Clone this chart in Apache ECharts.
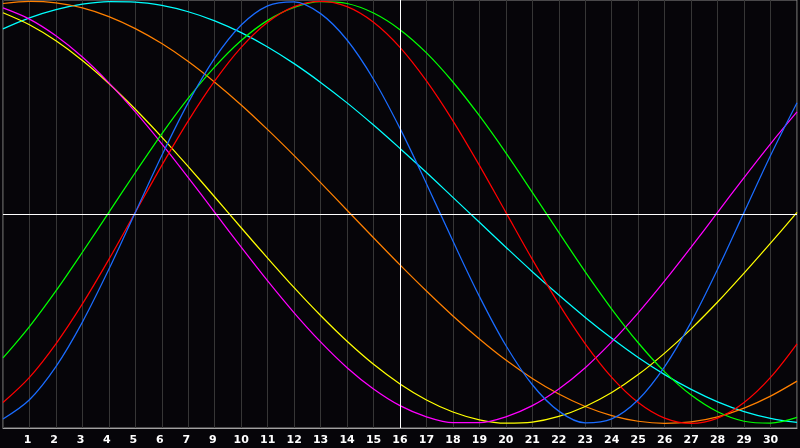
<!DOCTYPE html>
<html>
<head>
<meta charset="utf-8">
<script src="https://cdn.jsdelivr.net/npm/echarts@6/dist/echarts.min.js"></script>
<style>
  html, body { margin: 0; padding: 0; background: #060509; }
  #chart { width: 800px; height: 448px; }
</style>
</head>
<body>
<div id="chart"></div>
<script>
// x positions (grid slots) and the day labels printed under them
const slots = [0,1,2,3,4,5,6,7,8,9,10,11,12,13,14,15,16,17,18,19,20,21,22,23,24,25,26,27,28,29,30];
const dayLabels = ['', '1','2','3','4','5','6','7','9','10','11','12','13','14','15','16','17','18','19','20','21','22','23','24','25','26','27','28','29','30', ''];
const todaySlot = 15;

// curve values (percent) read at each slot
const blue    = [-97.9,-88.8,-73.1,-52.0,-27.0,0,27.0,52.0,73.1,88.8,97.9,99.8,94.2,81.7,63.1,39.8,13.6,-13.6,-39.8,-63.1,-81.7,-94.2,-99.8,-97.9,-88.8,-73.1,-52.0,-27.0,0,27.0,52.0];
const red     = [-90.1,-78.2,-62.3,-43.4,-22.3,0,22.3,43.4,62.3,78.2,90.1,97.5,100,97.5,90.1,78.2,62.3,43.4,22.3,0,-22.3,-43.4,-62.3,-78.2,-90.1,-97.5,-100,-97.5,-90.1,-78.2,-62.3];
const green   = [-69.0,-54.1,-37.2,-18.9,0,18.9,37.2,54.1,69.0,81.5,91.0,97.2,99.9,99.0,94.5,86.6,75.6,61.8,45.8,28.2,9.5,-9.5,-28.2,-45.8,-61.8,-75.6,-86.6,-94.5,-99.0,-99.9,-97.2];
const magenta = [96.9,91.6,83.7,73.6,61.4,47.6,32.5,16.5,0,-16.5,-32.5,-47.6,-61.4,-73.6,-83.7,-91.6,-96.9,-99.7,-99.7,-96.9,-91.6,-83.7,-73.6,-61.4,-47.6,-32.5,-16.5,0,16.5,32.5,47.6];
const yellow  = [94.6,88.9,81.3,72.0,61.1,48.9,35.7,21.7,7.3,-7.3,-21.7,-35.7,-48.9,-61.1,-72.0,-81.3,-88.9,-94.6,-98.3,-99.9,-99.4,-96.7,-92.0,-85.4,-76.9,-66.7,-55.2,-42.5,-28.8,-14.6,0];
const orange  = [99.0,100.0,99.3,96.9,92.8,87.1,80.0,71.5,61.7,50.9,39.2,26.9,14.1,1.0,-12.0,-24.9,-37.3,-49.1,-60.0,-70.0,-78.7,-86.1,-92.0,-96.3,-99.0,-100,-99.3,-96.9,-92.8,-87.1,-80.0];
const cyan    = [87.0,92.2,96.1,98.7,99.9,99.7,98.1,95.1,90.8,85.2,78.4,70.5,61.6,51.9,41.4,30.3,18.9,7.1,-4.7,-16.5,-28.1,-39.2,-49.8,-59.7,-68.8,-76.9,-83.9,-89.8,-94.4,-97.6,-99.5];

const curves = [
  { name: 'cyan',    values: cyan,    color: '#00ffff' },
  { name: 'orange',  values: orange,  color: '#ff8000' },
  { name: 'yellow',  values: yellow,  color: '#ffff00' },
  { name: 'magenta', values: magenta, color: '#ff00ff' },
  { name: 'green',   values: green,   color: '#00ff00' },
  { name: 'red',     values: red,     color: '#ff0000' },
  { name: 'blue',    values: blue,    color: '#1a6cff' }
];

const chart = echarts.init(document.getElementById('chart'), null, { renderer: 'canvas' });

const series = curves.map(function (c, idx) {
  const s = {
    name: c.name,
    type: 'line',
    data: slots.map(function (x, i) { return [x, c.values[i]]; }),
    smooth: 0.33,
    symbol: 'none',
    lineStyle: { color: c.color, width: 1.25 },
    itemStyle: { color: c.color },
    silent: true,
    z: 3
  };
  if (idx === 0) {
    s.markLine = {
      silent: true,
      symbol: 'none',
      label: { show: false },
      lineStyle: { color: '#ffffff', width: 1, type: 'solid' },
      data: [
        { xAxis: todaySlot },
        { yAxis: -0.8 }
      ]
    };
  }
  return s;
});

chart.setOption({
  animation: false,
  backgroundColor: '#060509',
  grid: {
    left: 0, right: 0, top: 0, bottom: 20,
    show: true,
    borderColor: '#8c8c8c',
    borderWidth: 1,
    backgroundColor: '#060509'
  },
  xAxis: {
    type: 'value',
    min: 0, max: 30, interval: 1,
    axisLine: { show: true, onZero: false, lineStyle: { color: '#a0a0a0', width: 1 } },
    axisTick: { show: false },
    splitLine: { show: true, lineStyle: { color: '#363636', width: 1 } },
    axisLabel: {
      show: true,
      margin: 7,
      color: '#ffffff',
      fontFamily: 'DejaVu Sans',
      fontWeight: 'bold',
      fontSize: 11,
      showMinLabel: true,
      showMaxLabel: true,
      formatter: function (v) {
        const s = dayLabels[Math.round(v)] || '';
        return s.length === 1 ? s + ' ' : s;
      }
    }
  },
  yAxis: {
    type: 'value',
    min: -102.2, max: 100.66,
    show: false,
    splitLine: { show: false }
  },
  series: series
});
</script>
</body>
</html>
